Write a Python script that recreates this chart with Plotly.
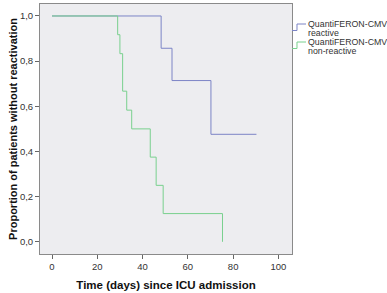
import plotly.graph_objects as go

# Kaplan-Meier step data
reactive_days = [0, 48.2, 53, 70.2, 90.3]
reactive_surv = [1.0, 0.857, 0.714, 0.476, 0.476]
nonreactive_days = [0, 29, 30, 31.2, 33, 35.2, 43.4, 46, 49.1, 75.3]
nonreactive_surv = [1.0, 0.917, 0.833, 0.667, 0.583, 0.5, 0.375, 0.25, 0.125, 0.0]

x_ticks = [0, 20, 40, 60, 80, 100]
y_ticks = [0.0, 0.2, 0.4, 0.6, 0.8, 1.0]
series_names = [["QuantiFERON-CMV", "reactive"], ["QuantiFERON-CMV", "non-reactive"]]

BLUE = "#7c84c6"
GREEN = "#79d08e"

W, H = 387, 293
L, R, T, B = 40, 95, 4, 39
pw, ph = W - L - R, H - T - B

def px(x):
    return (x - L) / pw

def py(y):
    return (H - B - y) / ph

fig = go.Figure()
fig.add_trace(go.Scatter(x=reactive_days, y=reactive_surv, mode="lines",
                         line=dict(color=BLUE, width=1, shape="hv"), showlegend=False))
fig.add_trace(go.Scatter(x=nonreactive_days, y=nonreactive_surv, mode="lines",
                         line=dict(color=GREEN, width=1, shape="hv"), showlegend=False))

# legend glyphs (step shaped) and labels
shapes = []
annotations = []
for i, (col, lines) in enumerate(zip([BLUE, GREEN], series_names)):
    ytop = 24 + i * 18
    ybot = ytop + 6.5
    pts = [(292, ybot), (297, ybot), (297, ytop), (306, ytop)]
    path = "M " + " L ".join(f"{px(a):.4f},{py(b):.4f}" for a, b in pts)
    shapes.append(dict(type="path", path=path, xref="paper", yref="paper",
                       line=dict(color=col, width=1)))
    for j, t in enumerate(lines):
        annotations.append(dict(text=t, x=px(306), y=py(ytop + j * 8.5), xref="paper", yref="paper",
                                xanchor="left", yanchor="middle", showarrow=False, align="left",
                                font=dict(family="Liberation Sans, Arial", size=8.8, color="#333")))

fig.update_layout(
    width=W, height=H,
    margin=dict(l=L, r=R, t=T, b=B, autoexpand=False),
    paper_bgcolor="white",
    plot_bgcolor="#ededf0",
    separators=",.",
    shapes=shapes,
    annotations=annotations,
    font=dict(family="Liberation Sans, Arial", color="#333"),
    xaxis=dict(range=[-5.3, 106], tickvals=x_ticks, ticks="outside", ticklen=4,
               tickcolor="#666", showgrid=False, zeroline=False, automargin=False,
               showline=True, mirror=True, linecolor="#8a8a8a", linewidth=1,
               tickfont=dict(size=9.5, color="#333"),
               title=dict(text="<b>Time (days) since ICU admission</b>",
                          font=dict(size=11.5, color="#111"), standoff=9)),
    yaxis=dict(range=[-0.054, 1.053], tickvals=y_ticks, tickformat=".1f", ticks="outside",
               ticklen=4, tickcolor="#666", showgrid=False, zeroline=False, automargin=False,
               showline=True, mirror=True, linecolor="#8a8a8a", linewidth=1,
               tickfont=dict(size=9.5, color="#333"),
               title=dict(text="<b>Proportion of patients without reactivation</b>",
                          font=dict(size=11, color="#111"), standoff=0)),
)

fig.write_html("out.html", config={"displayModeBar": False},
               post_script="document.body.style.margin='0';document.body.style.padding='0';")
